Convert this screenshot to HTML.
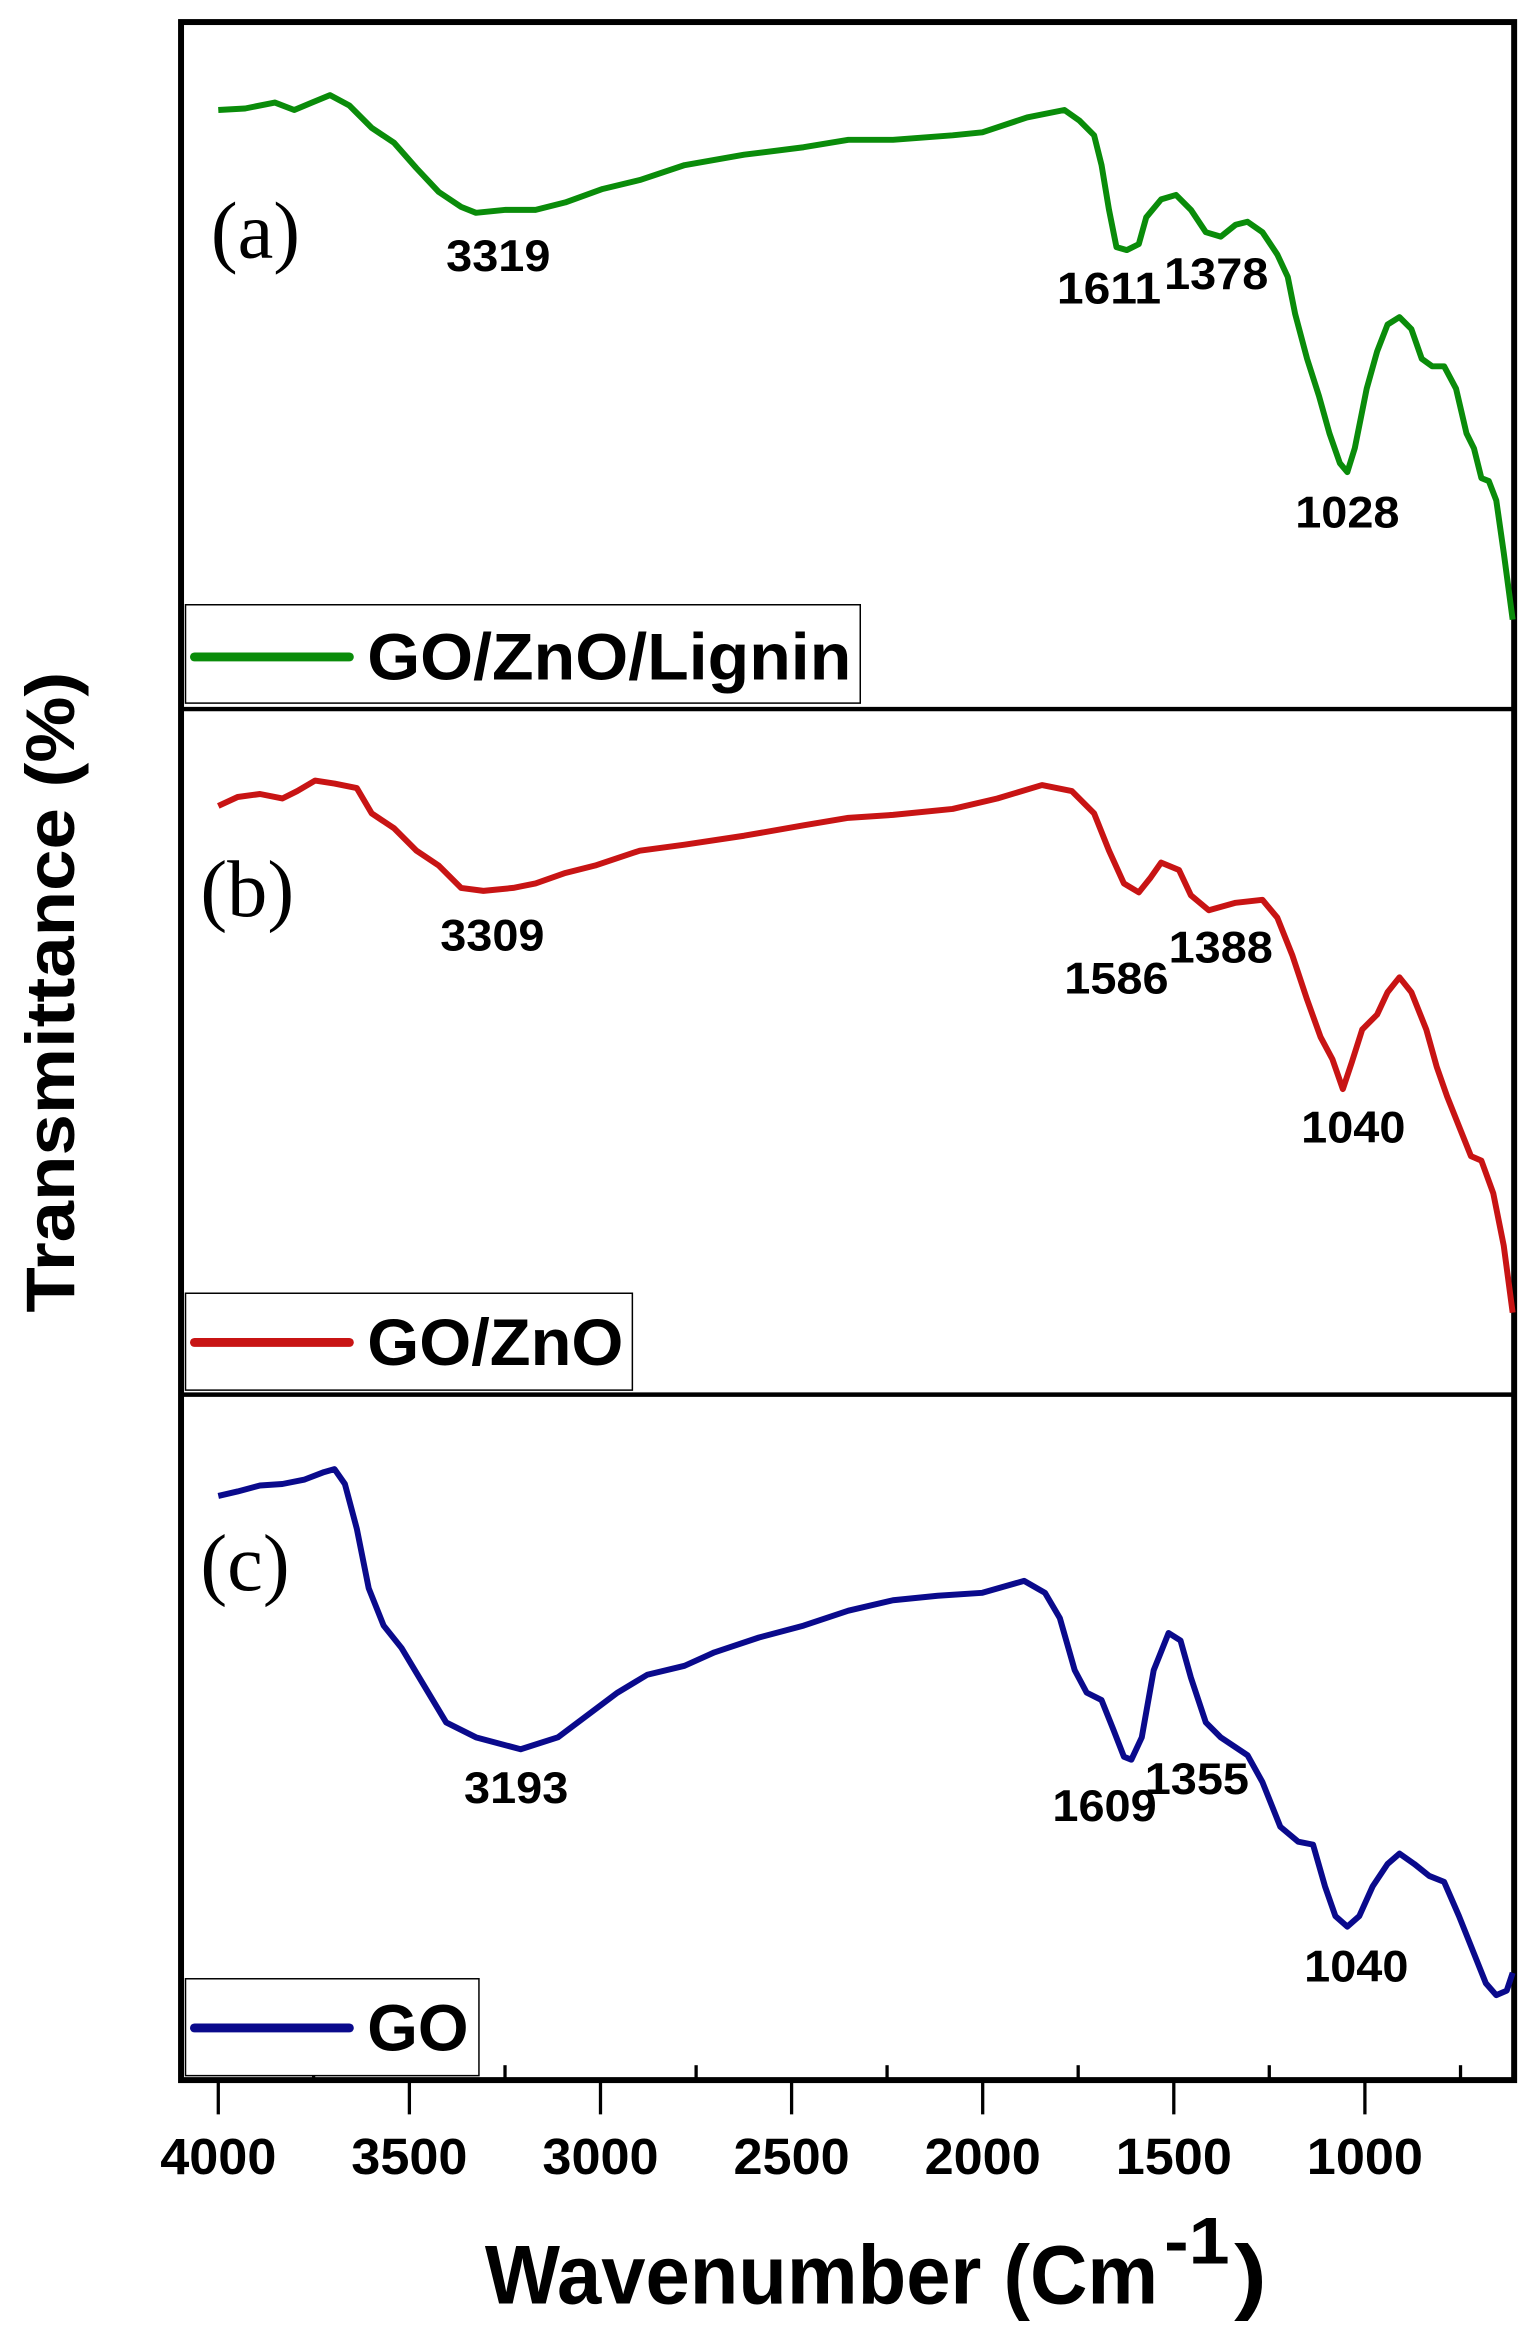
<!DOCTYPE html>
<html><head><meta charset="utf-8"><style>
html,body{margin:0;padding:0;background:#fff;}
svg{display:block;}
text{font-family:"Liberation Sans",Arial,sans-serif;}
</style></head><body>
<svg width="1535" height="2334" viewBox="0 0 1023.33 1556" xmlns="http://www.w3.org/2000/svg">
<rect width="1023.33" height="1556" fill="#fff"/>
<g transform="translate(-0.45,0.8) scale(0.993,0.9935)">
<!-- frame -->
<rect x="122" y="14" width="895" height="1381" fill="none" stroke="#000" stroke-width="4"/>
<line x1="122" y1="475" x2="1017" y2="475" stroke="#000" stroke-width="3"/>
<line x1="122" y1="935" x2="1017" y2="935" stroke="#000" stroke-width="3"/>
<!-- ticks -->
<g stroke="#000" stroke-width="2.2">
<line x1="147" y1="1395" x2="147" y2="1418"/><line x1="275.3" y1="1395" x2="275.3" y2="1418"/><line x1="403.6" y1="1395" x2="403.6" y2="1418"/><line x1="531.9" y1="1395" x2="531.9" y2="1418"/><line x1="660.2" y1="1395" x2="660.2" y2="1418"/><line x1="788.5" y1="1395" x2="788.5" y2="1418"/><line x1="916.8" y1="1395" x2="916.8" y2="1418"/>
<line x1="211" y1="1395" x2="211" y2="1385"/><line x1="339.5" y1="1395" x2="339.5" y2="1385"/><line x1="467.8" y1="1395" x2="467.8" y2="1385"/><line x1="596" y1="1395" x2="596" y2="1385"/><line x1="724.3" y1="1395" x2="724.3" y2="1385"/><line x1="852.6" y1="1395" x2="852.6" y2="1385"/><line x1="981" y1="1395" x2="981" y2="1385"/>
</g>
<g font-size="34" font-weight="bold" text-anchor="middle" lengthAdjust="spacingAndGlyphs">
<text x="147" y="1458" textLength="78" lengthAdjust="spacingAndGlyphs">4000</text><text x="275.3" y="1458" textLength="78" lengthAdjust="spacingAndGlyphs">3500</text><text x="403.6" y="1458" textLength="78" lengthAdjust="spacingAndGlyphs">3000</text><text x="531.9" y="1458" textLength="78" lengthAdjust="spacingAndGlyphs">2500</text><text x="660.2" y="1458" textLength="78" lengthAdjust="spacingAndGlyphs">2000</text><text x="788.5" y="1458" textLength="78" lengthAdjust="spacingAndGlyphs">1500</text><text x="916.8" y="1458" textLength="78" lengthAdjust="spacingAndGlyphs">1000</text>
</g>
<text x="326" y="1545" font-size="56" font-weight="bold" textLength="452" lengthAdjust="spacingAndGlyphs">Wavenumber (Cm</text>
<text x="782" y="1518" font-size="44" font-weight="bold" textLength="44" lengthAdjust="spacingAndGlyphs">-1</text>
<text x="829" y="1545" font-size="56" font-weight="bold" textLength="22" lengthAdjust="spacingAndGlyphs">)</text>
<text transform="translate(50,665) rotate(-90)" font-size="46" font-weight="bold" text-anchor="middle" textLength="430" lengthAdjust="spacingAndGlyphs">Transmittance (%)</text>
<!-- curves -->
<polyline fill="none" stroke="#0a8c0a" stroke-width="4" stroke-linejoin="round" points="147,73 165,72 185,68 198,73 210,68 222,63 235,70 250,85 265,95 280,112 295,128 310,138 320,142 340,140 360,140 380,135 405,126 430,120 460,110 500,103 540,98 570,93 600,93 640,90 660,88 690,78 715,73 725,80 735,90 740,110 745,140 750,165 757,167 765,163 770,145 780,133 790,130 800,140 810,155 820,158 830,150 838,148 848,155 858,170 865,185 870,210 878,240 886,265 893,290 900,310 905,316 910,300 918,260 925,235 932,217 940,212 948,220 955,240 962,245 970,245 978,260 985,290 990,300 995,320 1000,322 1005,335 1010,370 1016,415"/>
<polyline fill="none" stroke="#c81414" stroke-width="4" stroke-linejoin="round" points="147,540 160,534 175,532 190,535 200,530 212,523 225,525 240,528 250,545 265,555 280,570 295,580 310,595 325,597 345,595 360,592 380,585 400,580 430,570 460,566 500,560 540,553 570,548 600,546 640,542 670,535 700,526 720,530 735,545 745,570 755,592 765,598 773,588 780,578 792,583 800,600 812,610 830,605 848,603 858,615 868,640 878,670 887,695 895,710 902,730 908,712 915,690 925,680 932,665 940,655 948,665 958,690 965,715 972,735 980,755 988,775 995,778 1003,800 1010,835 1016,880"/>
<polyline fill="none" stroke="#0a0a8c" stroke-width="4" stroke-linejoin="round" points="147,1003 160,1000 175,996 190,995 205,992 218,987 225,985 232,995 240,1025 248,1065 258,1090 270,1105 285,1130 300,1155 320,1165 350,1173 375,1165 395,1150 415,1135 435,1123 460,1117 480,1108 510,1098 540,1090 570,1080 600,1073 630,1070 660,1068 688,1060 702,1068 712,1085 722,1120 730,1135 740,1140 748,1160 755,1178 760,1180 767,1165 775,1120 785,1095 793,1100 800,1125 810,1155 820,1165 838,1177 848,1195 860,1225 872,1235 882,1237 890,1265 897,1285 905,1292 913,1285 922,1265 932,1250 940,1243 950,1250 960,1258 970,1262 980,1285 990,1310 998,1330 1005,1338 1012,1335 1016,1323"/>
<!-- panel labels -->
<text x="142" y="172" font-size="54" style="font-family:'Liberation Serif',serif">(a)</text>
<text x="135" y="614" font-size="54" style="font-family:'Liberation Serif',serif">(b)</text>
<text x="135" y="1066" font-size="54" style="font-family:'Liberation Serif',serif">(c)</text>
<!-- peak labels -->
<g font-size="30" font-weight="bold" text-anchor="middle">
<text x="335" y="181" textLength="70" lengthAdjust="spacingAndGlyphs">3319</text><text x="745" y="203" textLength="70" lengthAdjust="spacingAndGlyphs">1611</text><text x="817" y="193" textLength="70" lengthAdjust="spacingAndGlyphs">1378</text><text x="905" y="353" textLength="70" lengthAdjust="spacingAndGlyphs">1028</text>
<text x="331" y="637" textLength="70" lengthAdjust="spacingAndGlyphs">3309</text><text x="750" y="666" textLength="70" lengthAdjust="spacingAndGlyphs">1586</text><text x="820" y="645" textLength="70" lengthAdjust="spacingAndGlyphs">1388</text><text x="909" y="766" textLength="70" lengthAdjust="spacingAndGlyphs">1040</text>
<text x="347" y="1209" textLength="70" lengthAdjust="spacingAndGlyphs">3193</text><text x="742" y="1221" textLength="70" lengthAdjust="spacingAndGlyphs">1609</text><text x="804" y="1203" textLength="70" lengthAdjust="spacingAndGlyphs">1355</text><text x="911" y="1329" textLength="70" lengthAdjust="spacingAndGlyphs">1040</text>
</g>
<!-- legends -->
<rect x="125" y="405" width="453" height="66" fill="#fff" stroke="#000" stroke-width="1"/>
<line x1="131" y1="440" x2="235" y2="440" stroke="#0a8c0a" stroke-width="6" stroke-linecap="round"/>
<text x="247" y="455" font-size="44" font-weight="bold" textLength="325" lengthAdjust="spacingAndGlyphs">GO/ZnO/Lignin</text>
<rect x="125" y="867" width="300" height="65" fill="#fff" stroke="#000" stroke-width="1"/>
<line x1="131" y1="900" x2="235" y2="900" stroke="#c81414" stroke-width="6" stroke-linecap="round"/>
<text x="247" y="915" font-size="44" font-weight="bold" textLength="172" lengthAdjust="spacingAndGlyphs">GO/ZnO</text>
<rect x="125" y="1327" width="197" height="65" fill="#fff" stroke="#000" stroke-width="1"/>
<line x1="131" y1="1360" x2="235" y2="1360" stroke="#0a0a8c" stroke-width="6" stroke-linecap="round"/>
<text x="247" y="1375" font-size="44" font-weight="bold" textLength="68" lengthAdjust="spacingAndGlyphs">GO</text>
</g>
</svg>
</body></html>
